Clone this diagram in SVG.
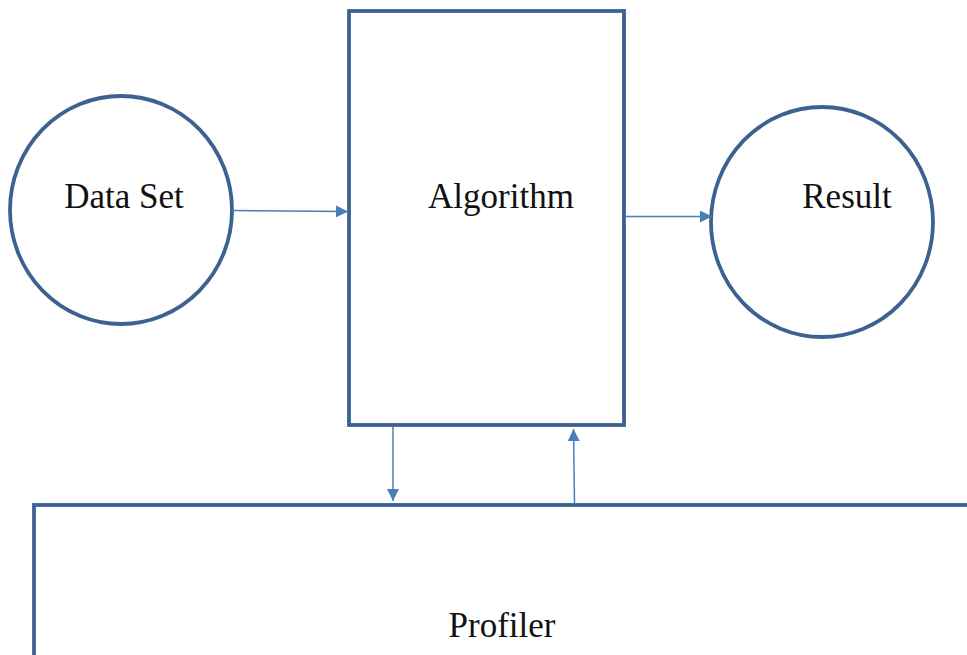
<svg xmlns="http://www.w3.org/2000/svg" width="967" height="655" viewBox="0 0 967 655">
  <defs>
    <style>
      .shape { fill: #ffffff; stroke: #3c6291; stroke-width: 3.8; }
      .link { fill: none; stroke: #4a7ebb; stroke-width: 1.5; }
      .label { font-family: "Liberation Serif", "Times New Roman", serif; font-size: 35px; fill: #111111; }
    </style>
    <marker id="arrow" viewBox="0 0 12 12" refX="12" refY="6" markerWidth="12" markerHeight="12" markerUnits="userSpaceOnUse" orient="auto">
      <path d="M0,0 L12,6 L0,12 Z" fill="#4a7ebb"/>
    </marker>
  </defs>
  <rect width="967" height="655" fill="#ffffff"/>

  <g id="profiler">
    <rect class="shape" x="34" y="505" width="960" height="170"/>
    <text class="label" x="502" y="637" text-anchor="middle">Profiler</text>
  </g>

  <g id="algorithm">
    <rect class="shape" x="349" y="11" width="275" height="414"/>
    <text class="label" x="501" y="208" text-anchor="middle">Algorithm</text>
  </g>

  <g id="data-set">
    <ellipse class="shape" cx="121" cy="210" rx="111" ry="114"/>
    <text class="label" x="124" y="208" text-anchor="middle">Data Set</text>
  </g>

  <g id="result">
    <ellipse class="shape" cx="822" cy="222" rx="111" ry="115"/>
    <text class="label" x="847" y="208" text-anchor="middle">Result</text>
  </g>

  <g id="connectors">
    <line class="link" x1="232" y1="210.5" x2="348" y2="211.5" marker-end="url(#arrow)"/>
    <line class="link" x1="625" y1="216.5" x2="712" y2="216.5" marker-end="url(#arrow)"/>
    <line class="link" x1="393" y1="427" x2="393" y2="501" marker-end="url(#arrow)"/>
    <line class="link" x1="574.5" y1="504" x2="573.5" y2="429" marker-end="url(#arrow)"/>
  </g>
</svg>
